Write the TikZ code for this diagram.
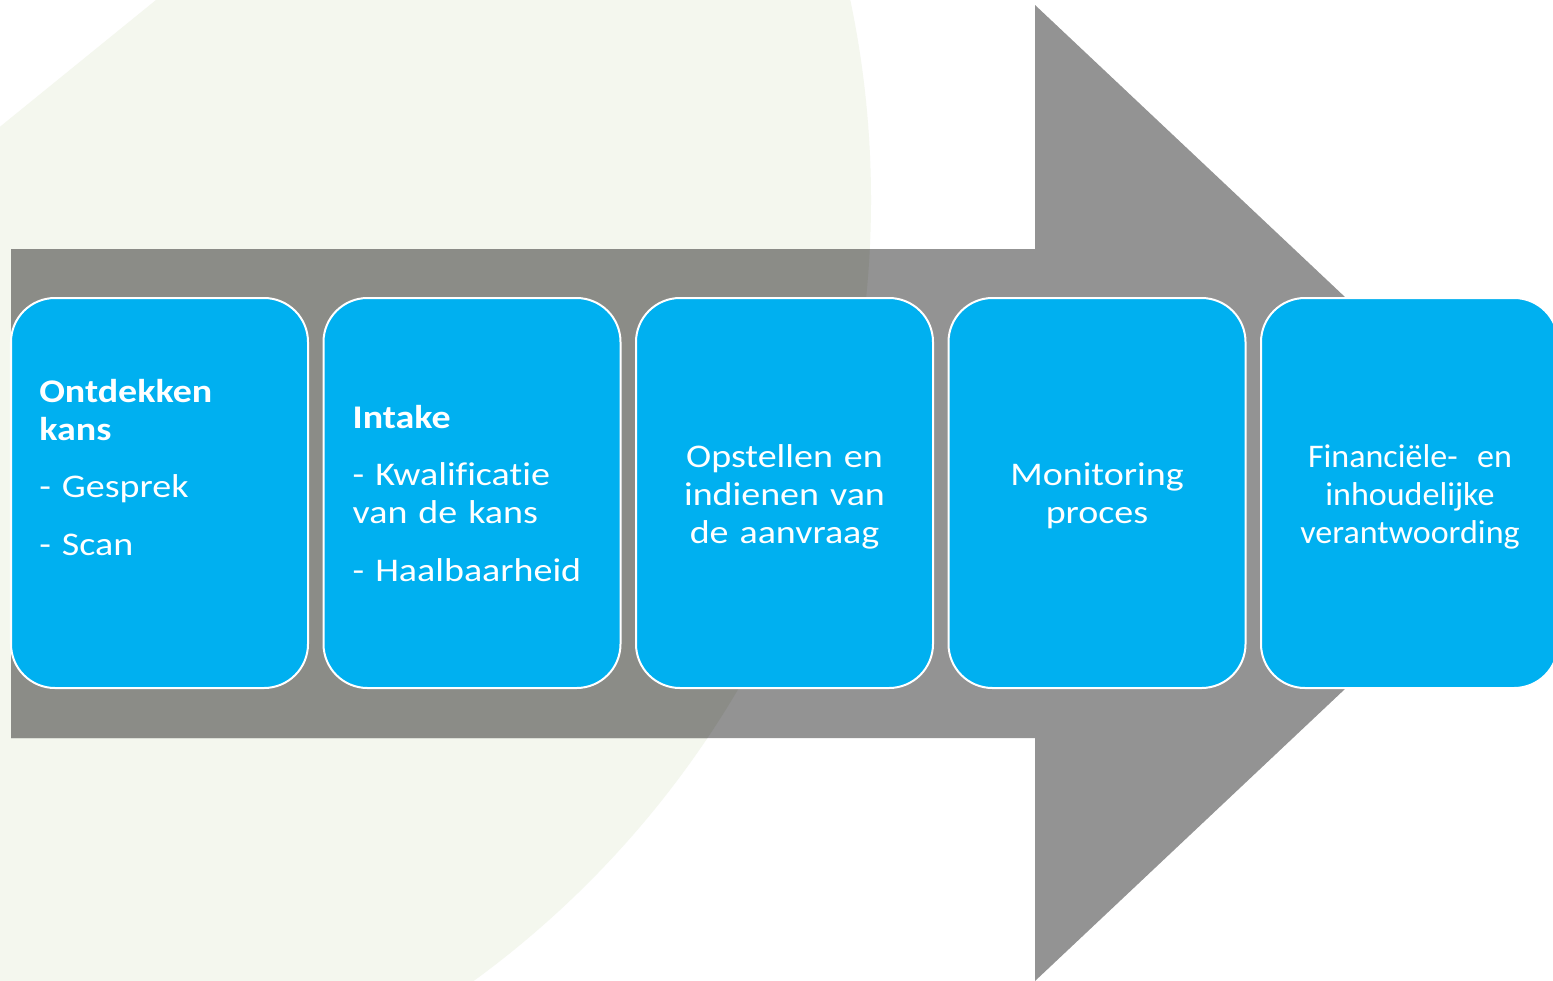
\documentclass[tikz,border=0pt]{standalone}
\usepackage{fontspec}
\setmainfont{Carlito}[FakeStretch=1.15, Ligatures=NoCommon]
\newfontfamily\finfont{Carlito}[FakeStretch=1.03, Ligatures=NoCommon]
\definecolor{boxblue}{HTML}{00B0F0}
\definecolor{arrowgray}{HTML}{939393}
\definecolor{arrowdark}{HTML}{8B8C87}
\definecolor{palebg}{HTML}{F4F7EE}
\def\flowarrow{(0.11,7.31) -- (10.35,7.31) -- (10.35,9.75) -- (15.53,4.87) -- (10.35,-0.01) -- (10.35,2.42) -- (0.11,2.42) -- cycle}
\def\paleedge{(-1,7.72) -- (3,10.97) -- (12,10.97) -- (12,-1) -- (-1,-1) -- cycle}
\tikzset{
  stepbox/.style={draw=white, line width=0.02cm, fill=boxblue, rounded corners=0.44cm,
    minimum width=2.97cm, minimum height=3.9cm, inner sep=0},
  steptext/.style={text=white, inner sep=0, text width=2.9cm,
    font=\fontsize{9.4}{10.9}\selectfont}
}
\begin{document}
\begin{tikzpicture}
\useasboundingbox (0,0) rectangle (15.53,9.80);
\clip (0,0) rectangle (15.53,9.80);
\fill[white] (0,0) rectangle (15.53,9.80);
% pale disc in the background
\begin{scope}
\clip \paleedge;
\fill[palebg] (-0.95,7.80) circle (9.66cm);
\end{scope}
% big arrow
\fill[arrowgray] \flowarrow;
\begin{scope}
\clip \paleedge;
\clip (-0.95,7.80) circle (9.66cm);
\fill[arrowdark] \flowarrow;
\end{scope}
% steps
\node[stepbox] (b1) at (1.595,4.87) {};
\node[stepbox] (b2) at (4.72,4.87) {};
\node[stepbox] (b3) at (7.845,4.87) {};
\node[stepbox] (b4) at (10.97,4.87) {};
\node[stepbox] (b5) at (14.095,4.87) {};
\node[steptext, align=left, anchor=base west] (t1) at (0.386,5.78)
  {\textbf{Ontdekken}\\\textbf{kans}\\[5.5pt]- Gesprek\\[5.5pt]- Scan};
\node[steptext, align=left, anchor=base west] (t2) at (3.52,5.52)
  {\textbf{Intake}\\[5.5pt]- Kwalificatie\\van de kans\\[5.5pt]- Haalbaarheid};
\node[steptext, align=center, anchor=base] (t3) at (7.845,5.13)
  {Opstellen en\\indienen van\\de aanvraag};
\node[steptext, align=center, anchor=base] (t4) at (10.97,4.95)
  {Monitoring\\proces};
\node[steptext, align=center, anchor=base] (t5) at (14.10,5.13)
  {\finfont Financiële-\hspace{5.5pt}en\\inhoudelijke\\verantwoording};
\end{tikzpicture}
\end{document}
